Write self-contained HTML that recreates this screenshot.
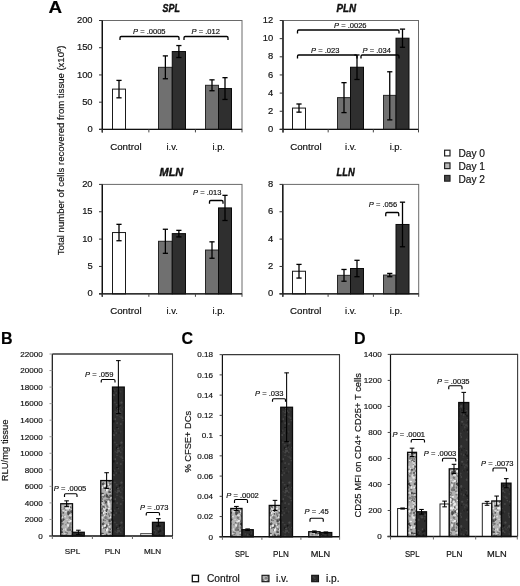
<!DOCTYPE html>
<html><head><meta charset="utf-8"><title>Figure</title>
<style>
html,body{margin:0;padding:0;background:#fff;}
body{width:520px;height:586px;overflow:hidden;}
svg{display:block;font-family:"Liberation Sans", sans-serif;filter:blur(0.35px);}
text{stroke:#111;stroke-width:0.18px;}
</style></head><body>
<svg width="520" height="586" viewBox="0 0 520 586">
<defs>
<filter id="bl" x="-5%" y="-5%" width="110%" height="110%"><feGaussianBlur stdDeviation="0.45"/></filter>
<pattern id="piv" patternUnits="userSpaceOnUse" width="24" height="40">
<rect width="24" height="40" fill="#b2b2b2"/>
<g filter="url(#bl)"><ellipse cx="10.9" cy="22.4" rx="1.5" ry="1.1" fill="#808080"/><ellipse cx="4.4" cy="20.5" rx="1.2" ry="1.4" fill="#6e6e6e"/><ellipse cx="10.7" cy="5.7" rx="1.1" ry="1.5" fill="#5a5a5a"/><ellipse cx="14.3" cy="15.8" rx="1.1" ry="1.3" fill="#4a4a4a"/><ellipse cx="15.0" cy="33.3" rx="0.7" ry="0.6" fill="#808080"/><ellipse cx="14.4" cy="31.1" rx="0.9" ry="1.2" fill="#808080"/><ellipse cx="12.5" cy="25.6" rx="1.1" ry="1.3" fill="#777"/><ellipse cx="15.7" cy="16.3" rx="1.2" ry="1.5" fill="#6e6e6e"/><ellipse cx="17.0" cy="12.6" rx="0.8" ry="0.9" fill="#6e6e6e"/><ellipse cx="13.5" cy="4.3" rx="0.7" ry="0.9" fill="#6e6e6e"/><ellipse cx="-1.0" cy="33.9" rx="0.6" ry="0.8" fill="#5a5a5a"/><ellipse cx="23.0" cy="33.9" rx="0.6" ry="0.8" fill="#5a5a5a"/><ellipse cx="11.3" cy="-0.8" rx="1.0" ry="0.7" fill="#808080"/><ellipse cx="11.3" cy="39.2" rx="1.0" ry="0.7" fill="#808080"/><ellipse cx="18.7" cy="10.8" rx="0.7" ry="0.9" fill="#f0f0f0"/><ellipse cx="18.2" cy="4.7" rx="0.8" ry="0.7" fill="#5a5a5a"/><ellipse cx="11.2" cy="19.5" rx="1.3" ry="0.8" fill="#808080"/><ellipse cx="-0.4" cy="30.8" rx="1.0" ry="1.0" fill="#f0f0f0"/><ellipse cx="23.6" cy="30.8" rx="1.0" ry="1.0" fill="#f0f0f0"/><ellipse cx="10.1" cy="8.5" rx="0.9" ry="1.6" fill="#e8e8e8"/><ellipse cx="-0.1" cy="0.8" rx="0.8" ry="1.6" fill="#6e6e6e"/><ellipse cx="-0.1" cy="40.8" rx="0.8" ry="1.6" fill="#6e6e6e"/><ellipse cx="23.9" cy="0.8" rx="0.8" ry="1.6" fill="#6e6e6e"/><ellipse cx="23.9" cy="40.8" rx="0.8" ry="1.6" fill="#6e6e6e"/><ellipse cx="1.0" cy="5.9" rx="1.0" ry="0.6" fill="#dcdcdc"/><ellipse cx="25.0" cy="5.9" rx="1.0" ry="0.6" fill="#dcdcdc"/><ellipse cx="19.9" cy="15.4" rx="0.7" ry="0.8" fill="#808080"/><ellipse cx="0.4" cy="14.7" rx="1.2" ry="0.7" fill="#777"/><ellipse cx="24.4" cy="14.7" rx="1.2" ry="0.7" fill="#777"/><ellipse cx="20.0" cy="5.4" rx="1.0" ry="1.2" fill="#e8e8e8"/><ellipse cx="-2.2" cy="32.7" rx="0.8" ry="0.8" fill="#808080"/><ellipse cx="21.8" cy="32.7" rx="0.8" ry="0.8" fill="#808080"/><ellipse cx="16.5" cy="15.5" rx="1.1" ry="0.7" fill="#5a5a5a"/><ellipse cx="2.5" cy="1.5" rx="1.6" ry="0.8" fill="#f0f0f0"/><ellipse cx="2.5" cy="41.5" rx="1.6" ry="0.8" fill="#f0f0f0"/><ellipse cx="26.5" cy="1.5" rx="1.6" ry="0.8" fill="#f0f0f0"/><ellipse cx="26.5" cy="41.5" rx="1.6" ry="0.8" fill="#f0f0f0"/><ellipse cx="6.2" cy="32.9" rx="1.2" ry="0.9" fill="#4a4a4a"/><ellipse cx="-1.7" cy="-0.9" rx="0.7" ry="1.1" fill="#6e6e6e"/><ellipse cx="-1.7" cy="39.1" rx="0.7" ry="1.1" fill="#6e6e6e"/><ellipse cx="22.3" cy="-0.9" rx="0.7" ry="1.1" fill="#6e6e6e"/><ellipse cx="22.3" cy="39.1" rx="0.7" ry="1.1" fill="#6e6e6e"/><ellipse cx="6.7" cy="36.7" rx="0.8" ry="0.6" fill="#e8e8e8"/><ellipse cx="9.9" cy="10.0" rx="0.6" ry="0.9" fill="#4a4a4a"/><ellipse cx="2.2" cy="5.5" rx="1.1" ry="0.9" fill="#4a4a4a"/><ellipse cx="26.2" cy="5.5" rx="1.1" ry="0.9" fill="#4a4a4a"/><ellipse cx="14.2" cy="36.9" rx="1.1" ry="1.0" fill="#e8e8e8"/><ellipse cx="-0.9" cy="0.9" rx="1.2" ry="1.1" fill="#e8e8e8"/><ellipse cx="-0.9" cy="40.9" rx="1.2" ry="1.1" fill="#e8e8e8"/><ellipse cx="23.1" cy="0.9" rx="1.2" ry="1.1" fill="#e8e8e8"/><ellipse cx="23.1" cy="40.9" rx="1.2" ry="1.1" fill="#e8e8e8"/><ellipse cx="7.7" cy="-0.0" rx="0.7" ry="1.1" fill="#5a5a5a"/><ellipse cx="7.7" cy="40.0" rx="0.7" ry="1.1" fill="#5a5a5a"/><ellipse cx="-2.4" cy="29.5" rx="1.3" ry="1.4" fill="#dcdcdc"/><ellipse cx="21.6" cy="29.5" rx="1.3" ry="1.4" fill="#dcdcdc"/><ellipse cx="8.4" cy="27.4" rx="1.5" ry="1.5" fill="#f0f0f0"/><ellipse cx="-1.3" cy="1.2" rx="1.1" ry="0.6" fill="#f0f0f0"/><ellipse cx="-1.3" cy="41.2" rx="1.1" ry="0.6" fill="#f0f0f0"/><ellipse cx="22.7" cy="1.2" rx="1.1" ry="0.6" fill="#f0f0f0"/><ellipse cx="22.7" cy="41.2" rx="1.1" ry="0.6" fill="#f0f0f0"/><ellipse cx="9.1" cy="0.5" rx="0.7" ry="0.7" fill="#6e6e6e"/><ellipse cx="9.1" cy="40.5" rx="0.7" ry="0.7" fill="#6e6e6e"/><ellipse cx="-0.2" cy="35.2" rx="1.3" ry="1.0" fill="#777"/><ellipse cx="23.8" cy="35.2" rx="1.3" ry="1.0" fill="#777"/><ellipse cx="10.6" cy="33.5" rx="0.7" ry="1.4" fill="#5a5a5a"/><ellipse cx="7.4" cy="3.5" rx="0.6" ry="1.6" fill="#6e6e6e"/><ellipse cx="11.9" cy="24.6" rx="1.5" ry="0.9" fill="#5a5a5a"/><ellipse cx="8.8" cy="5.7" rx="1.2" ry="1.1" fill="#dcdcdc"/><ellipse cx="15.8" cy="17.7" rx="1.5" ry="0.9" fill="#e8e8e8"/><ellipse cx="4.8" cy="17.2" rx="1.4" ry="1.5" fill="#808080"/><ellipse cx="9.2" cy="23.3" rx="0.9" ry="0.7" fill="#777"/><ellipse cx="8.4" cy="35.8" rx="0.6" ry="0.7" fill="#e8e8e8"/><ellipse cx="19.7" cy="4.5" rx="1.1" ry="1.5" fill="#f0f0f0"/><ellipse cx="9.2" cy="20.8" rx="1.3" ry="1.3" fill="#777"/><ellipse cx="7.7" cy="33.1" rx="0.9" ry="1.2" fill="#e8e8e8"/><ellipse cx="13.7" cy="12.4" rx="1.4" ry="0.6" fill="#4a4a4a"/><ellipse cx="9.7" cy="7.6" rx="1.4" ry="0.9" fill="#4a4a4a"/><ellipse cx="19.1" cy="-0.6" rx="0.7" ry="0.7" fill="#dcdcdc"/><ellipse cx="19.1" cy="39.4" rx="0.7" ry="0.7" fill="#dcdcdc"/><ellipse cx="-1.0" cy="27.4" rx="0.8" ry="1.1" fill="#4a4a4a"/><ellipse cx="23.0" cy="27.4" rx="0.8" ry="1.1" fill="#4a4a4a"/><ellipse cx="17.1" cy="30.2" rx="1.1" ry="0.6" fill="#808080"/><ellipse cx="6.5" cy="13.8" rx="1.3" ry="1.1" fill="#4a4a4a"/><ellipse cx="9.4" cy="31.7" rx="1.5" ry="0.7" fill="#f0f0f0"/><ellipse cx="3.1" cy="18.1" rx="1.2" ry="1.5" fill="#f0f0f0"/><ellipse cx="13.2" cy="26.1" rx="1.1" ry="1.4" fill="#dcdcdc"/><ellipse cx="11.1" cy="26.1" rx="0.8" ry="1.3" fill="#6e6e6e"/><ellipse cx="5.1" cy="36.0" rx="1.6" ry="1.6" fill="#dcdcdc"/><ellipse cx="6.3" cy="28.7" rx="0.6" ry="1.1" fill="#5a5a5a"/><ellipse cx="10.6" cy="22.0" rx="1.4" ry="1.1" fill="#5a5a5a"/><ellipse cx="5.2" cy="34.7" rx="1.0" ry="0.6" fill="#dcdcdc"/><ellipse cx="16.5" cy="36.6" rx="1.1" ry="1.6" fill="#777"/><ellipse cx="-1.3" cy="19.7" rx="1.5" ry="0.7" fill="#808080"/><ellipse cx="22.7" cy="19.7" rx="1.5" ry="0.7" fill="#808080"/><ellipse cx="10.5" cy="22.4" rx="1.4" ry="1.2" fill="#4a4a4a"/><ellipse cx="12.5" cy="33.7" rx="1.2" ry="0.9" fill="#f0f0f0"/><ellipse cx="-1.1" cy="34.8" rx="1.2" ry="0.9" fill="#4a4a4a"/><ellipse cx="22.9" cy="34.8" rx="1.2" ry="0.9" fill="#4a4a4a"/><ellipse cx="-0.8" cy="21.0" rx="1.2" ry="0.8" fill="#6e6e6e"/><ellipse cx="23.2" cy="21.0" rx="1.2" ry="0.8" fill="#6e6e6e"/><ellipse cx="12.1" cy="24.2" rx="0.6" ry="1.6" fill="#f0f0f0"/><ellipse cx="13.1" cy="-0.4" rx="0.7" ry="0.7" fill="#4a4a4a"/><ellipse cx="13.1" cy="39.6" rx="0.7" ry="0.7" fill="#4a4a4a"/><ellipse cx="1.6" cy="21.5" rx="1.0" ry="1.6" fill="#f0f0f0"/><ellipse cx="25.6" cy="21.5" rx="1.0" ry="1.6" fill="#f0f0f0"/><ellipse cx="6.5" cy="18.9" rx="0.7" ry="1.0" fill="#777"/><ellipse cx="12.6" cy="4.3" rx="1.0" ry="0.6" fill="#e8e8e8"/><ellipse cx="3.1" cy="31.2" rx="0.6" ry="0.8" fill="#808080"/><ellipse cx="0.3" cy="11.4" rx="1.3" ry="0.8" fill="#777"/><ellipse cx="24.3" cy="11.4" rx="1.3" ry="0.8" fill="#777"/><ellipse cx="2.5" cy="29.2" rx="0.7" ry="1.1" fill="#e8e8e8"/><ellipse cx="26.5" cy="29.2" rx="0.7" ry="1.1" fill="#e8e8e8"/><ellipse cx="17.2" cy="28.1" rx="1.5" ry="0.6" fill="#f0f0f0"/><ellipse cx="19.8" cy="24.6" rx="1.1" ry="1.5" fill="#808080"/><ellipse cx="12.7" cy="34.1" rx="1.2" ry="1.5" fill="#808080"/><ellipse cx="-2.0" cy="25.1" rx="0.9" ry="0.8" fill="#dcdcdc"/><ellipse cx="22.0" cy="25.1" rx="0.9" ry="0.8" fill="#dcdcdc"/><ellipse cx="-2.6" cy="7.8" rx="1.4" ry="0.8" fill="#6e6e6e"/><ellipse cx="21.4" cy="7.8" rx="1.4" ry="0.8" fill="#6e6e6e"/><ellipse cx="3.2" cy="9.6" rx="1.3" ry="0.9" fill="#6e6e6e"/><ellipse cx="10.4" cy="-2.4" rx="1.1" ry="1.3" fill="#808080"/><ellipse cx="10.4" cy="37.6" rx="1.1" ry="1.3" fill="#808080"/><ellipse cx="9.7" cy="27.4" rx="0.6" ry="0.8" fill="#dcdcdc"/><ellipse cx="-2.1" cy="-1.3" rx="0.7" ry="1.1" fill="#dcdcdc"/><ellipse cx="-2.1" cy="38.7" rx="0.7" ry="1.1" fill="#dcdcdc"/><ellipse cx="21.9" cy="-1.3" rx="0.7" ry="1.1" fill="#dcdcdc"/><ellipse cx="21.9" cy="38.7" rx="0.7" ry="1.1" fill="#dcdcdc"/><ellipse cx="12.1" cy="27.4" rx="0.8" ry="0.7" fill="#6e6e6e"/><ellipse cx="0.6" cy="30.5" rx="1.2" ry="1.5" fill="#777"/><ellipse cx="24.6" cy="30.5" rx="1.2" ry="1.5" fill="#777"/><ellipse cx="3.5" cy="7.4" rx="0.8" ry="1.4" fill="#e8e8e8"/><ellipse cx="-1.8" cy="3.8" rx="0.7" ry="1.6" fill="#777"/><ellipse cx="22.2" cy="3.8" rx="0.7" ry="1.6" fill="#777"/><ellipse cx="1.9" cy="3.9" rx="1.0" ry="1.0" fill="#dcdcdc"/><ellipse cx="25.9" cy="3.9" rx="1.0" ry="1.0" fill="#dcdcdc"/><ellipse cx="10.3" cy="24.0" rx="0.6" ry="1.3" fill="#808080"/><ellipse cx="4.4" cy="18.2" rx="1.3" ry="1.0" fill="#808080"/><ellipse cx="14.5" cy="3.8" rx="1.4" ry="0.9" fill="#6e6e6e"/><ellipse cx="19.2" cy="28.2" rx="1.5" ry="1.2" fill="#f0f0f0"/><ellipse cx="13.7" cy="7.6" rx="1.2" ry="0.9" fill="#e8e8e8"/><ellipse cx="6.7" cy="4.7" rx="1.3" ry="0.8" fill="#f0f0f0"/><ellipse cx="3.2" cy="13.2" rx="1.1" ry="1.0" fill="#f0f0f0"/><ellipse cx="18.4" cy="16.2" rx="1.3" ry="0.7" fill="#dcdcdc"/><ellipse cx="7.2" cy="4.0" rx="1.5" ry="1.6" fill="#5a5a5a"/><ellipse cx="5.6" cy="-2.2" rx="1.3" ry="0.9" fill="#f0f0f0"/><ellipse cx="5.6" cy="37.8" rx="1.3" ry="0.9" fill="#f0f0f0"/><ellipse cx="13.7" cy="21.3" rx="1.0" ry="1.6" fill="#808080"/><ellipse cx="16.8" cy="30.5" rx="1.6" ry="0.6" fill="#6e6e6e"/><ellipse cx="17.7" cy="10.3" rx="1.0" ry="0.7" fill="#808080"/><ellipse cx="15.6" cy="0.4" rx="0.9" ry="0.9" fill="#dcdcdc"/><ellipse cx="15.6" cy="40.4" rx="0.9" ry="0.9" fill="#dcdcdc"/><ellipse cx="13.2" cy="20.3" rx="1.6" ry="1.2" fill="#6e6e6e"/><ellipse cx="15.3" cy="32.4" rx="0.7" ry="1.2" fill="#5a5a5a"/><ellipse cx="9.3" cy="-2.5" rx="1.0" ry="1.6" fill="#777"/><ellipse cx="9.3" cy="37.5" rx="1.0" ry="1.6" fill="#777"/><ellipse cx="13.0" cy="23.9" rx="1.0" ry="1.1" fill="#e8e8e8"/><ellipse cx="12.6" cy="23.9" rx="1.0" ry="0.9" fill="#e8e8e8"/><ellipse cx="13.5" cy="11.3" rx="1.3" ry="0.9" fill="#5a5a5a"/><ellipse cx="18.5" cy="23.4" rx="1.2" ry="1.0" fill="#f0f0f0"/><ellipse cx="1.3" cy="12.6" rx="1.0" ry="1.2" fill="#dcdcdc"/><ellipse cx="25.3" cy="12.6" rx="1.0" ry="1.2" fill="#dcdcdc"/><ellipse cx="1.8" cy="36.2" rx="1.0" ry="1.1" fill="#808080"/><ellipse cx="25.8" cy="36.2" rx="1.0" ry="1.1" fill="#808080"/><ellipse cx="1.1" cy="3.9" rx="1.4" ry="1.5" fill="#4a4a4a"/><ellipse cx="25.1" cy="3.9" rx="1.4" ry="1.5" fill="#4a4a4a"/><ellipse cx="-0.5" cy="32.7" rx="1.2" ry="0.7" fill="#f0f0f0"/><ellipse cx="23.5" cy="32.7" rx="1.2" ry="0.7" fill="#f0f0f0"/><ellipse cx="10.9" cy="8.1" rx="0.7" ry="1.1" fill="#6e6e6e"/><ellipse cx="8.7" cy="5.6" rx="1.0" ry="1.2" fill="#f0f0f0"/><ellipse cx="8.7" cy="29.8" rx="1.4" ry="0.7" fill="#e8e8e8"/><ellipse cx="17.6" cy="9.5" rx="0.7" ry="1.5" fill="#dcdcdc"/><ellipse cx="6.6" cy="24.4" rx="1.3" ry="1.3" fill="#808080"/><ellipse cx="15.2" cy="30.1" rx="0.8" ry="0.8" fill="#808080"/><ellipse cx="-2.9" cy="1.6" rx="0.7" ry="0.9" fill="#f0f0f0"/><ellipse cx="-2.9" cy="41.6" rx="0.7" ry="0.9" fill="#f0f0f0"/><ellipse cx="21.1" cy="1.6" rx="0.7" ry="0.9" fill="#f0f0f0"/><ellipse cx="21.1" cy="41.6" rx="0.7" ry="0.9" fill="#f0f0f0"/><ellipse cx="0.6" cy="1.5" rx="0.8" ry="0.9" fill="#6e6e6e"/><ellipse cx="0.6" cy="41.5" rx="0.8" ry="0.9" fill="#6e6e6e"/><ellipse cx="24.6" cy="1.5" rx="0.8" ry="0.9" fill="#6e6e6e"/><ellipse cx="24.6" cy="41.5" rx="0.8" ry="0.9" fill="#6e6e6e"/><ellipse cx="-2.1" cy="6.4" rx="0.8" ry="1.6" fill="#777"/><ellipse cx="21.9" cy="6.4" rx="0.8" ry="1.6" fill="#777"/><ellipse cx="11.5" cy="8.4" rx="0.9" ry="1.3" fill="#6e6e6e"/><ellipse cx="19.3" cy="17.9" rx="1.4" ry="1.4" fill="#808080"/><ellipse cx="10.7" cy="29.9" rx="1.0" ry="0.8" fill="#4a4a4a"/><ellipse cx="15.7" cy="-0.4" rx="0.9" ry="1.1" fill="#4a4a4a"/><ellipse cx="15.7" cy="39.6" rx="0.9" ry="1.1" fill="#4a4a4a"/><ellipse cx="10.3" cy="14.8" rx="0.7" ry="1.5" fill="#6e6e6e"/><ellipse cx="13.0" cy="17.3" rx="1.2" ry="1.4" fill="#777"/><ellipse cx="7.2" cy="31.0" rx="0.7" ry="0.8" fill="#6e6e6e"/><ellipse cx="16.7" cy="19.8" rx="1.4" ry="0.9" fill="#4a4a4a"/><ellipse cx="5.3" cy="26.3" rx="0.9" ry="1.5" fill="#dcdcdc"/><ellipse cx="17.0" cy="22.8" rx="1.5" ry="1.5" fill="#e8e8e8"/><ellipse cx="10.5" cy="32.1" rx="0.9" ry="0.9" fill="#f0f0f0"/><ellipse cx="-0.8" cy="29.2" rx="1.1" ry="0.7" fill="#dcdcdc"/><ellipse cx="23.2" cy="29.2" rx="1.1" ry="0.7" fill="#dcdcdc"/><ellipse cx="0.6" cy="27.1" rx="1.2" ry="1.4" fill="#dcdcdc"/><ellipse cx="24.6" cy="27.1" rx="1.2" ry="1.4" fill="#dcdcdc"/><ellipse cx="19.1" cy="21.6" rx="1.4" ry="1.2" fill="#4a4a4a"/><ellipse cx="2.2" cy="18.2" rx="1.5" ry="1.4" fill="#808080"/><ellipse cx="26.2" cy="18.2" rx="1.5" ry="1.4" fill="#808080"/><ellipse cx="12.4" cy="21.8" rx="1.2" ry="1.6" fill="#f0f0f0"/><ellipse cx="1.5" cy="21.9" rx="1.4" ry="0.7" fill="#6e6e6e"/><ellipse cx="25.5" cy="21.9" rx="1.4" ry="0.7" fill="#6e6e6e"/><ellipse cx="6.6" cy="4.2" rx="0.9" ry="0.6" fill="#4a4a4a"/><ellipse cx="2.3" cy="32.7" rx="1.0" ry="1.3" fill="#777"/><ellipse cx="26.3" cy="32.7" rx="1.0" ry="1.3" fill="#777"/><ellipse cx="18.4" cy="20.9" rx="1.4" ry="1.0" fill="#dcdcdc"/><ellipse cx="19.4" cy="13.3" rx="0.7" ry="1.1" fill="#6e6e6e"/><ellipse cx="17.0" cy="36.6" rx="1.0" ry="1.4" fill="#dcdcdc"/><ellipse cx="20.5" cy="32.2" rx="1.4" ry="1.5" fill="#5a5a5a"/><ellipse cx="12.6" cy="28.4" rx="1.4" ry="1.0" fill="#f0f0f0"/><ellipse cx="-2.0" cy="9.8" rx="0.8" ry="1.2" fill="#4a4a4a"/><ellipse cx="22.0" cy="9.8" rx="0.8" ry="1.2" fill="#4a4a4a"/><ellipse cx="7.7" cy="15.6" rx="1.1" ry="0.9" fill="#5a5a5a"/><ellipse cx="11.3" cy="29.2" rx="0.9" ry="0.8" fill="#4a4a4a"/><ellipse cx="-2.1" cy="30.1" rx="0.6" ry="1.1" fill="#5a5a5a"/><ellipse cx="21.9" cy="30.1" rx="0.6" ry="1.1" fill="#5a5a5a"/><ellipse cx="7.5" cy="7.9" rx="1.0" ry="1.2" fill="#777"/><ellipse cx="14.3" cy="9.0" rx="0.8" ry="0.9" fill="#4a4a4a"/><ellipse cx="-2.1" cy="-2.5" rx="1.2" ry="1.5" fill="#777"/><ellipse cx="-2.1" cy="37.5" rx="1.2" ry="1.5" fill="#777"/><ellipse cx="21.9" cy="-2.5" rx="1.2" ry="1.5" fill="#777"/><ellipse cx="21.9" cy="37.5" rx="1.2" ry="1.5" fill="#777"/><ellipse cx="20.5" cy="19.4" rx="1.0" ry="1.6" fill="#6e6e6e"/><ellipse cx="11.6" cy="8.8" rx="0.6" ry="1.5" fill="#f0f0f0"/><ellipse cx="-0.6" cy="31.8" rx="1.4" ry="1.4" fill="#5a5a5a"/><ellipse cx="23.4" cy="31.8" rx="1.4" ry="1.4" fill="#5a5a5a"/><ellipse cx="15.8" cy="9.5" rx="0.6" ry="1.1" fill="#dcdcdc"/><ellipse cx="10.8" cy="9.9" rx="1.0" ry="1.5" fill="#f0f0f0"/><ellipse cx="3.8" cy="12.9" rx="0.9" ry="1.5" fill="#4a4a4a"/><ellipse cx="15.3" cy="-0.3" rx="0.9" ry="1.1" fill="#4a4a4a"/><ellipse cx="15.3" cy="39.7" rx="0.9" ry="1.1" fill="#4a4a4a"/><ellipse cx="13.7" cy="7.1" rx="0.8" ry="1.5" fill="#4a4a4a"/><ellipse cx="19.7" cy="3.3" rx="0.9" ry="1.3" fill="#6e6e6e"/><ellipse cx="-2.6" cy="27.7" rx="0.7" ry="1.3" fill="#e8e8e8"/><ellipse cx="21.4" cy="27.7" rx="0.7" ry="1.3" fill="#e8e8e8"/><ellipse cx="0.5" cy="7.5" rx="0.8" ry="1.3" fill="#777"/><ellipse cx="24.5" cy="7.5" rx="0.8" ry="1.3" fill="#777"/><ellipse cx="5.0" cy="21.7" rx="1.1" ry="0.8" fill="#e8e8e8"/><ellipse cx="7.6" cy="16.2" rx="1.2" ry="1.6" fill="#6e6e6e"/><ellipse cx="8.6" cy="27.5" rx="0.7" ry="1.0" fill="#777"/><ellipse cx="17.9" cy="31.4" rx="0.7" ry="1.0" fill="#f0f0f0"/><ellipse cx="17.1" cy="19.0" rx="0.9" ry="0.7" fill="#5a5a5a"/><ellipse cx="20.5" cy="33.8" rx="1.3" ry="1.5" fill="#4a4a4a"/><ellipse cx="7.0" cy="15.0" rx="1.1" ry="0.9" fill="#dcdcdc"/><ellipse cx="18.1" cy="22.2" rx="0.7" ry="0.8" fill="#f0f0f0"/><ellipse cx="17.6" cy="13.2" rx="1.5" ry="1.2" fill="#dcdcdc"/><ellipse cx="10.7" cy="15.3" rx="0.7" ry="1.2" fill="#4a4a4a"/><ellipse cx="16.3" cy="28.3" rx="0.8" ry="1.0" fill="#777"/><ellipse cx="14.2" cy="3.6" rx="0.8" ry="0.8" fill="#6e6e6e"/><ellipse cx="10.4" cy="30.8" rx="0.9" ry="1.4" fill="#4a4a4a"/><ellipse cx="15.5" cy="30.7" rx="1.4" ry="1.0" fill="#dcdcdc"/><ellipse cx="-1.9" cy="24.9" rx="1.3" ry="1.2" fill="#dcdcdc"/><ellipse cx="22.1" cy="24.9" rx="1.3" ry="1.2" fill="#dcdcdc"/><ellipse cx="-0.4" cy="31.6" rx="1.3" ry="1.2" fill="#5a5a5a"/><ellipse cx="23.6" cy="31.6" rx="1.3" ry="1.2" fill="#5a5a5a"/><ellipse cx="6.3" cy="7.6" rx="0.9" ry="1.0" fill="#f0f0f0"/><ellipse cx="4.9" cy="13.3" rx="0.9" ry="0.7" fill="#4a4a4a"/><ellipse cx="6.1" cy="21.6" rx="0.9" ry="0.8" fill="#4a4a4a"/><ellipse cx="13.8" cy="7.9" rx="1.5" ry="1.6" fill="#808080"/><ellipse cx="13.6" cy="1.1" rx="1.3" ry="1.4" fill="#4a4a4a"/><ellipse cx="13.6" cy="41.1" rx="1.3" ry="1.4" fill="#4a4a4a"/><ellipse cx="5.9" cy="23.1" rx="1.3" ry="0.9" fill="#dcdcdc"/><ellipse cx="6.4" cy="35.3" rx="1.1" ry="1.3" fill="#808080"/><ellipse cx="-2.3" cy="21.7" rx="1.2" ry="1.2" fill="#e8e8e8"/><ellipse cx="21.7" cy="21.7" rx="1.2" ry="1.2" fill="#e8e8e8"/><ellipse cx="4.0" cy="29.8" rx="1.5" ry="0.9" fill="#4a4a4a"/><ellipse cx="2.9" cy="33.0" rx="0.9" ry="1.5" fill="#808080"/><ellipse cx="26.9" cy="33.0" rx="0.9" ry="1.5" fill="#808080"/><ellipse cx="18.2" cy="14.5" rx="0.8" ry="1.2" fill="#6e6e6e"/><ellipse cx="10.9" cy="16.1" rx="1.4" ry="1.5" fill="#4a4a4a"/><ellipse cx="7.4" cy="26.8" rx="1.3" ry="1.0" fill="#5a5a5a"/><ellipse cx="3.8" cy="16.5" rx="0.6" ry="1.1" fill="#6e6e6e"/><ellipse cx="13.7" cy="6.9" rx="1.1" ry="0.9" fill="#dcdcdc"/><ellipse cx="1.3" cy="31.4" rx="1.3" ry="1.4" fill="#f0f0f0"/><ellipse cx="25.3" cy="31.4" rx="1.3" ry="1.4" fill="#f0f0f0"/><ellipse cx="-1.0" cy="24.0" rx="1.1" ry="1.0" fill="#f0f0f0"/><ellipse cx="23.0" cy="24.0" rx="1.1" ry="1.0" fill="#f0f0f0"/><ellipse cx="18.0" cy="19.4" rx="1.6" ry="1.4" fill="#f0f0f0"/><ellipse cx="19.8" cy="4.7" rx="0.7" ry="1.5" fill="#dcdcdc"/><ellipse cx="12.6" cy="17.3" rx="1.5" ry="0.9" fill="#5a5a5a"/><ellipse cx="7.1" cy="24.6" rx="1.0" ry="1.0" fill="#dcdcdc"/><ellipse cx="18.0" cy="12.2" rx="1.2" ry="0.7" fill="#6e6e6e"/><ellipse cx="20.3" cy="9.7" rx="1.5" ry="1.6" fill="#777"/><ellipse cx="16.7" cy="21.0" rx="0.8" ry="0.9" fill="#f0f0f0"/><ellipse cx="-1.4" cy="35.2" rx="1.6" ry="1.3" fill="#dcdcdc"/><ellipse cx="22.6" cy="35.2" rx="1.6" ry="1.3" fill="#dcdcdc"/><ellipse cx="20.8" cy="16.9" rx="1.4" ry="0.8" fill="#f0f0f0"/><ellipse cx="13.6" cy="36.1" rx="0.7" ry="1.4" fill="#6e6e6e"/></g>
</pattern>
<pattern id="pip" patternUnits="userSpaceOnUse" width="24" height="40">
<rect width="24" height="40" fill="#2d2d2d"/>
<g filter="url(#bl)"><ellipse cx="-2.8" cy="23.0" rx="0.9" ry="0.7" fill="#4c4c4c"/><ellipse cx="21.2" cy="23.0" rx="0.9" ry="0.7" fill="#4c4c4c"/><ellipse cx="0.6" cy="6.9" rx="0.9" ry="0.9" fill="#3c3c3c"/><ellipse cx="24.6" cy="6.9" rx="0.9" ry="0.9" fill="#3c3c3c"/><ellipse cx="9.5" cy="14.3" rx="1.0" ry="0.5" fill="#161616"/><ellipse cx="10.9" cy="12.6" rx="0.8" ry="0.6" fill="#1c1c1c"/><ellipse cx="-2.9" cy="8.1" rx="1.2" ry="1.1" fill="#161616"/><ellipse cx="21.1" cy="8.1" rx="1.2" ry="1.1" fill="#161616"/><ellipse cx="4.7" cy="33.5" rx="0.8" ry="0.9" fill="#444"/><ellipse cx="15.2" cy="27.9" rx="0.9" ry="0.9" fill="#444"/><ellipse cx="4.6" cy="35.2" rx="0.5" ry="0.6" fill="#4c4c4c"/><ellipse cx="-0.9" cy="11.0" rx="0.8" ry="1.2" fill="#4c4c4c"/><ellipse cx="23.1" cy="11.0" rx="0.8" ry="1.2" fill="#4c4c4c"/><ellipse cx="16.7" cy="-2.5" rx="0.9" ry="0.6" fill="#444"/><ellipse cx="16.7" cy="37.5" rx="0.9" ry="0.6" fill="#444"/><ellipse cx="20.7" cy="4.8" rx="1.1" ry="0.7" fill="#444"/><ellipse cx="12.0" cy="11.8" rx="0.7" ry="1.1" fill="#3c3c3c"/><ellipse cx="-2.8" cy="23.6" rx="0.7" ry="0.7" fill="#444"/><ellipse cx="21.2" cy="23.6" rx="0.7" ry="0.7" fill="#444"/><ellipse cx="16.0" cy="11.1" rx="1.0" ry="0.6" fill="#161616"/><ellipse cx="10.6" cy="21.1" rx="0.9" ry="0.5" fill="#3c3c3c"/><ellipse cx="14.1" cy="21.5" rx="0.8" ry="1.0" fill="#444"/><ellipse cx="6.8" cy="30.2" rx="0.7" ry="0.7" fill="#3c3c3c"/><ellipse cx="0.7" cy="31.6" rx="0.6" ry="1.2" fill="#3c3c3c"/><ellipse cx="24.7" cy="31.6" rx="0.6" ry="1.2" fill="#3c3c3c"/><ellipse cx="11.1" cy="30.0" rx="0.8" ry="1.2" fill="#1c1c1c"/><ellipse cx="1.4" cy="2.6" rx="1.1" ry="1.2" fill="#4c4c4c"/><ellipse cx="1.4" cy="42.6" rx="1.1" ry="1.2" fill="#4c4c4c"/><ellipse cx="25.4" cy="2.6" rx="1.1" ry="1.2" fill="#4c4c4c"/><ellipse cx="25.4" cy="42.6" rx="1.1" ry="1.2" fill="#4c4c4c"/><ellipse cx="15.8" cy="31.3" rx="0.9" ry="0.9" fill="#3c3c3c"/><ellipse cx="17.9" cy="21.3" rx="1.0" ry="1.1" fill="#161616"/><ellipse cx="14.6" cy="9.4" rx="0.9" ry="1.1" fill="#444"/><ellipse cx="6.2" cy="21.8" rx="1.2" ry="1.0" fill="#4c4c4c"/><ellipse cx="0.8" cy="23.9" rx="1.1" ry="1.0" fill="#444"/><ellipse cx="24.8" cy="23.9" rx="1.1" ry="1.0" fill="#444"/><ellipse cx="7.8" cy="24.3" rx="1.0" ry="1.1" fill="#3c3c3c"/><ellipse cx="10.6" cy="10.5" rx="1.1" ry="0.6" fill="#444"/><ellipse cx="13.7" cy="21.7" rx="1.1" ry="0.7" fill="#444"/><ellipse cx="1.3" cy="17.0" rx="1.1" ry="1.2" fill="#3c3c3c"/><ellipse cx="25.3" cy="17.0" rx="1.1" ry="1.2" fill="#3c3c3c"/><ellipse cx="18.7" cy="30.6" rx="0.9" ry="1.0" fill="#3c3c3c"/><ellipse cx="4.1" cy="10.2" rx="0.6" ry="1.1" fill="#3c3c3c"/><ellipse cx="18.9" cy="2.4" rx="0.8" ry="0.8" fill="#444"/><ellipse cx="18.9" cy="42.4" rx="0.8" ry="0.8" fill="#444"/><ellipse cx="16.9" cy="-1.7" rx="0.6" ry="1.1" fill="#3c3c3c"/><ellipse cx="16.9" cy="38.3" rx="0.6" ry="1.1" fill="#3c3c3c"/><ellipse cx="-0.3" cy="5.8" rx="0.9" ry="1.1" fill="#161616"/><ellipse cx="23.7" cy="5.8" rx="0.9" ry="1.1" fill="#161616"/><ellipse cx="0.1" cy="16.4" rx="0.9" ry="0.6" fill="#3c3c3c"/><ellipse cx="24.1" cy="16.4" rx="0.9" ry="0.6" fill="#3c3c3c"/><ellipse cx="7.2" cy="17.0" rx="0.6" ry="0.5" fill="#3c3c3c"/><ellipse cx="5.5" cy="10.1" rx="0.9" ry="0.7" fill="#1c1c1c"/><ellipse cx="2.1" cy="9.1" rx="0.7" ry="1.3" fill="#3c3c3c"/><ellipse cx="26.1" cy="9.1" rx="0.7" ry="1.3" fill="#3c3c3c"/><ellipse cx="5.2" cy="6.4" rx="1.0" ry="1.3" fill="#4c4c4c"/><ellipse cx="13.6" cy="36.5" rx="1.2" ry="1.2" fill="#444"/><ellipse cx="11.1" cy="15.7" rx="1.2" ry="0.8" fill="#161616"/><ellipse cx="5.2" cy="13.9" rx="0.6" ry="0.9" fill="#444"/><ellipse cx="11.5" cy="16.0" rx="1.0" ry="1.1" fill="#1c1c1c"/><ellipse cx="10.7" cy="-0.3" rx="1.0" ry="1.2" fill="#444"/><ellipse cx="10.7" cy="39.7" rx="1.0" ry="1.2" fill="#444"/><ellipse cx="13.0" cy="16.8" rx="0.5" ry="0.7" fill="#4c4c4c"/><ellipse cx="14.9" cy="20.8" rx="1.1" ry="0.9" fill="#3c3c3c"/><ellipse cx="-1.8" cy="28.6" rx="0.7" ry="0.8" fill="#444"/><ellipse cx="22.2" cy="28.6" rx="0.7" ry="0.8" fill="#444"/><ellipse cx="17.5" cy="31.1" rx="0.6" ry="0.7" fill="#161616"/><ellipse cx="0.5" cy="12.9" rx="0.8" ry="0.6" fill="#1c1c1c"/><ellipse cx="24.5" cy="12.9" rx="0.8" ry="0.6" fill="#1c1c1c"/><ellipse cx="7.8" cy="30.8" rx="0.9" ry="0.5" fill="#1c1c1c"/><ellipse cx="14.6" cy="19.5" rx="0.7" ry="0.9" fill="#444"/><ellipse cx="0.8" cy="12.5" rx="0.8" ry="0.9" fill="#444"/><ellipse cx="24.8" cy="12.5" rx="0.8" ry="0.9" fill="#444"/><ellipse cx="12.4" cy="21.9" rx="0.8" ry="0.9" fill="#1c1c1c"/><ellipse cx="3.5" cy="8.2" rx="0.7" ry="1.1" fill="#1c1c1c"/><ellipse cx="3.3" cy="20.7" rx="0.8" ry="0.6" fill="#4c4c4c"/><ellipse cx="8.3" cy="8.6" rx="0.5" ry="0.5" fill="#1c1c1c"/><ellipse cx="13.6" cy="32.4" rx="1.3" ry="0.7" fill="#161616"/><ellipse cx="-1.9" cy="8.6" rx="1.1" ry="1.0" fill="#4c4c4c"/><ellipse cx="22.1" cy="8.6" rx="1.1" ry="1.0" fill="#4c4c4c"/><ellipse cx="5.6" cy="25.3" rx="0.6" ry="0.8" fill="#1c1c1c"/><ellipse cx="11.8" cy="19.6" rx="1.2" ry="0.7" fill="#4c4c4c"/><ellipse cx="5.3" cy="-3.0" rx="0.7" ry="1.1" fill="#4c4c4c"/><ellipse cx="5.3" cy="37.0" rx="0.7" ry="1.1" fill="#4c4c4c"/><ellipse cx="16.0" cy="9.6" rx="0.6" ry="0.8" fill="#1c1c1c"/><ellipse cx="19.3" cy="19.1" rx="0.7" ry="1.2" fill="#4c4c4c"/><ellipse cx="16.8" cy="0.9" rx="0.8" ry="0.8" fill="#161616"/><ellipse cx="16.8" cy="40.9" rx="0.8" ry="0.8" fill="#161616"/><ellipse cx="-2.1" cy="10.9" rx="0.8" ry="1.2" fill="#4c4c4c"/><ellipse cx="21.9" cy="10.9" rx="0.8" ry="1.2" fill="#4c4c4c"/><ellipse cx="11.3" cy="13.0" rx="0.7" ry="0.5" fill="#4c4c4c"/><ellipse cx="7.8" cy="14.9" rx="0.7" ry="1.2" fill="#444"/><ellipse cx="15.4" cy="15.4" rx="0.8" ry="1.2" fill="#161616"/><ellipse cx="13.8" cy="-2.3" rx="1.1" ry="1.0" fill="#3c3c3c"/><ellipse cx="13.8" cy="37.7" rx="1.1" ry="1.0" fill="#3c3c3c"/><ellipse cx="13.0" cy="24.5" rx="0.6" ry="0.6" fill="#1c1c1c"/><ellipse cx="-2.9" cy="15.3" rx="1.2" ry="0.5" fill="#444"/><ellipse cx="21.1" cy="15.3" rx="1.2" ry="0.5" fill="#444"/><ellipse cx="16.4" cy="10.9" rx="0.9" ry="0.9" fill="#161616"/><ellipse cx="3.6" cy="7.7" rx="0.7" ry="1.0" fill="#444"/><ellipse cx="12.5" cy="-2.9" rx="1.3" ry="0.5" fill="#3c3c3c"/><ellipse cx="12.5" cy="37.1" rx="1.3" ry="0.5" fill="#3c3c3c"/><ellipse cx="11.8" cy="26.0" rx="0.9" ry="1.0" fill="#3c3c3c"/><ellipse cx="-2.8" cy="27.6" rx="1.1" ry="0.7" fill="#161616"/><ellipse cx="21.2" cy="27.6" rx="1.1" ry="0.7" fill="#161616"/><ellipse cx="-2.7" cy="12.5" rx="1.1" ry="1.1" fill="#444"/><ellipse cx="21.3" cy="12.5" rx="1.1" ry="1.1" fill="#444"/><ellipse cx="-0.9" cy="33.0" rx="0.6" ry="1.0" fill="#1c1c1c"/><ellipse cx="23.1" cy="33.0" rx="0.6" ry="1.0" fill="#1c1c1c"/><ellipse cx="19.3" cy="11.7" rx="0.8" ry="0.8" fill="#3c3c3c"/><ellipse cx="12.0" cy="25.9" rx="0.8" ry="1.1" fill="#3c3c3c"/><ellipse cx="17.7" cy="35.1" rx="1.3" ry="1.2" fill="#4c4c4c"/><ellipse cx="2.7" cy="18.1" rx="1.1" ry="0.9" fill="#444"/><ellipse cx="26.7" cy="18.1" rx="1.1" ry="0.9" fill="#444"/><ellipse cx="14.9" cy="16.5" rx="0.9" ry="0.8" fill="#1c1c1c"/><ellipse cx="12.2" cy="31.9" rx="0.8" ry="1.1" fill="#4c4c4c"/><ellipse cx="8.8" cy="27.3" rx="0.6" ry="1.2" fill="#444"/><ellipse cx="20.2" cy="33.1" rx="1.0" ry="0.8" fill="#444"/><ellipse cx="15.0" cy="33.2" rx="1.1" ry="0.6" fill="#1c1c1c"/><ellipse cx="14.9" cy="11.7" rx="1.0" ry="1.3" fill="#1c1c1c"/><ellipse cx="14.1" cy="-2.4" rx="1.3" ry="0.6" fill="#4c4c4c"/><ellipse cx="14.1" cy="37.6" rx="1.3" ry="0.6" fill="#4c4c4c"/><ellipse cx="10.1" cy="25.3" rx="0.8" ry="1.2" fill="#444"/></g>
</pattern>
</defs>
<rect width="520" height="586" fill="#fff"/>
<rect x="102.3" y="20.5" width="139.7" height="108.9" fill="#fff" stroke="#6a6a6a" stroke-width="1"/>
<rect x="112.50" y="89.11" width="13.00" height="40.29" fill="#fff" stroke="#1a1a1a" stroke-width="1"/>
<rect x="158.50" y="67.33" width="13.75" height="62.07" fill="#707070" stroke="#262626" stroke-width="1"/>
<rect x="172.25" y="51.54" width="13.25" height="77.86" fill="#2f2f2f" stroke="#0a0a0a" stroke-width="1"/>
<rect x="205.50" y="85.30" width="13.00" height="44.10" fill="#707070" stroke="#262626" stroke-width="1"/>
<rect x="218.50" y="88.56" width="13.00" height="40.84" fill="#2f2f2f" stroke="#0a0a0a" stroke-width="1"/>
<line x1="119.00" y1="80.40" x2="119.00" y2="97.82" stroke="#000" stroke-width="1.3"/>
<line x1="116.40" y1="80.40" x2="121.60" y2="80.40" stroke="#000" stroke-width="1.3"/>
<line x1="116.40" y1="97.82" x2="121.60" y2="97.82" stroke="#000" stroke-width="1.3"/>
<line x1="165.38" y1="55.89" x2="165.38" y2="78.76" stroke="#000" stroke-width="1.3"/>
<line x1="162.78" y1="55.89" x2="167.97" y2="55.89" stroke="#000" stroke-width="1.3"/>
<line x1="162.78" y1="78.76" x2="167.97" y2="78.76" stroke="#000" stroke-width="1.3"/>
<line x1="178.88" y1="45.55" x2="178.88" y2="57.53" stroke="#000" stroke-width="1.3"/>
<line x1="176.28" y1="45.55" x2="181.47" y2="45.55" stroke="#000" stroke-width="1.3"/>
<line x1="176.28" y1="57.53" x2="181.47" y2="57.53" stroke="#000" stroke-width="1.3"/>
<line x1="212.00" y1="79.85" x2="212.00" y2="90.74" stroke="#000" stroke-width="1.3"/>
<line x1="209.40" y1="79.85" x2="214.60" y2="79.85" stroke="#000" stroke-width="1.3"/>
<line x1="209.40" y1="90.74" x2="214.60" y2="90.74" stroke="#000" stroke-width="1.3"/>
<line x1="225.00" y1="77.67" x2="225.00" y2="99.45" stroke="#000" stroke-width="1.3"/>
<line x1="222.40" y1="77.67" x2="227.60" y2="77.67" stroke="#000" stroke-width="1.3"/>
<line x1="222.40" y1="99.45" x2="227.60" y2="99.45" stroke="#000" stroke-width="1.3"/>
<line x1="102.30" y1="20.50" x2="102.30" y2="132.40" stroke="#111" stroke-width="1.4"/>
<line x1="99.00" y1="129.40" x2="242.00" y2="129.40" stroke="#111" stroke-width="1.3"/>
<line x1="102.30" y1="129.40" x2="102.30" y2="132.40" stroke="#444" stroke-width="1"/>
<line x1="148.87" y1="129.40" x2="148.87" y2="132.40" stroke="#444" stroke-width="1"/>
<line x1="195.43" y1="129.40" x2="195.43" y2="132.40" stroke="#444" stroke-width="1"/>
<line x1="242.00" y1="129.40" x2="242.00" y2="132.40" stroke="#444" stroke-width="1"/>
<line x1="99.00" y1="129.40" x2="102.30" y2="129.40" stroke="#333" stroke-width="1"/>
<text x="92.60" y="132.00" font-size="9.4" text-anchor="end" font-weight="normal" font-style="normal" fill="#111" >0</text>
<line x1="99.00" y1="102.18" x2="102.30" y2="102.18" stroke="#333" stroke-width="1"/>
<text x="92.60" y="104.78" font-size="9.4" text-anchor="end" font-weight="normal" font-style="normal" fill="#111" >50</text>
<line x1="99.00" y1="74.95" x2="102.30" y2="74.95" stroke="#333" stroke-width="1"/>
<text x="92.60" y="77.55" font-size="9.4" text-anchor="end" font-weight="normal" font-style="normal" fill="#111" >100</text>
<line x1="99.00" y1="47.73" x2="102.30" y2="47.73" stroke="#333" stroke-width="1"/>
<text x="92.60" y="50.33" font-size="9.4" text-anchor="end" font-weight="normal" font-style="normal" fill="#111" >150</text>
<line x1="99.00" y1="20.50" x2="102.30" y2="20.50" stroke="#333" stroke-width="1"/>
<text x="92.60" y="23.10" font-size="9.4" text-anchor="end" font-weight="normal" font-style="normal" fill="#111" >200</text>
<text x="125.88" y="149.60" font-size="9.4" text-anchor="middle" font-weight="normal" font-style="normal" fill="#111" textLength="31.4" lengthAdjust="spacingAndGlyphs">Control</text>
<text x="172.15" y="149.60" font-size="9.4" text-anchor="middle" font-weight="normal" font-style="normal" fill="#111" >i.v.</text>
<text x="218.72" y="149.60" font-size="9.4" text-anchor="middle" font-weight="normal" font-style="normal" fill="#111" >i.p.</text>
<text x="171.20" y="11.90" font-size="10.6" text-anchor="middle" font-weight="bold" font-style="italic" fill="#111" textLength="17.3" lengthAdjust="spacingAndGlyphs" style="stroke-width:0.4px">SPL</text>
<rect x="283" y="20.5" width="135.5" height="108.9" fill="#fff" stroke="#6a6a6a" stroke-width="1"/>
<rect x="292.50" y="108.07" width="13.00" height="21.33" fill="#fff" stroke="#1a1a1a" stroke-width="1"/>
<rect x="337.50" y="97.64" width="13.00" height="31.76" fill="#707070" stroke="#262626" stroke-width="1"/>
<rect x="350.50" y="67.24" width="13.00" height="62.16" fill="#2f2f2f" stroke="#0a0a0a" stroke-width="1"/>
<rect x="383.50" y="95.37" width="12.50" height="34.03" fill="#707070" stroke="#262626" stroke-width="1"/>
<rect x="396.00" y="38.20" width="13.00" height="91.20" fill="#2f2f2f" stroke="#0a0a0a" stroke-width="1"/>
<line x1="299.00" y1="103.99" x2="299.00" y2="112.16" stroke="#000" stroke-width="1.3"/>
<line x1="296.40" y1="103.99" x2="301.60" y2="103.99" stroke="#000" stroke-width="1.3"/>
<line x1="296.40" y1="112.16" x2="301.60" y2="112.16" stroke="#000" stroke-width="1.3"/>
<line x1="344.00" y1="82.66" x2="344.00" y2="112.61" stroke="#000" stroke-width="1.3"/>
<line x1="341.40" y1="82.66" x2="346.60" y2="82.66" stroke="#000" stroke-width="1.3"/>
<line x1="341.40" y1="112.61" x2="346.60" y2="112.61" stroke="#000" stroke-width="1.3"/>
<line x1="357.00" y1="54.98" x2="357.00" y2="79.49" stroke="#000" stroke-width="1.3"/>
<line x1="354.40" y1="54.98" x2="359.60" y2="54.98" stroke="#000" stroke-width="1.3"/>
<line x1="354.40" y1="79.49" x2="359.60" y2="79.49" stroke="#000" stroke-width="1.3"/>
<line x1="389.75" y1="71.77" x2="389.75" y2="119.87" stroke="#000" stroke-width="1.3"/>
<line x1="387.15" y1="71.77" x2="392.35" y2="71.77" stroke="#000" stroke-width="1.3"/>
<line x1="387.15" y1="119.87" x2="392.35" y2="119.87" stroke="#000" stroke-width="1.3"/>
<line x1="402.50" y1="29.12" x2="402.50" y2="47.27" stroke="#000" stroke-width="1.3"/>
<line x1="399.90" y1="29.12" x2="405.10" y2="29.12" stroke="#000" stroke-width="1.3"/>
<line x1="399.90" y1="47.27" x2="405.10" y2="47.27" stroke="#000" stroke-width="1.3"/>
<line x1="283.00" y1="20.50" x2="283.00" y2="132.40" stroke="#111" stroke-width="1.4"/>
<line x1="279.70" y1="129.40" x2="418.50" y2="129.40" stroke="#111" stroke-width="1.3"/>
<line x1="283.00" y1="129.40" x2="283.00" y2="132.40" stroke="#444" stroke-width="1"/>
<line x1="328.17" y1="129.40" x2="328.17" y2="132.40" stroke="#444" stroke-width="1"/>
<line x1="373.33" y1="129.40" x2="373.33" y2="132.40" stroke="#444" stroke-width="1"/>
<line x1="418.50" y1="129.40" x2="418.50" y2="132.40" stroke="#444" stroke-width="1"/>
<line x1="279.70" y1="129.40" x2="283.00" y2="129.40" stroke="#333" stroke-width="1"/>
<text x="273.30" y="132.00" font-size="9.4" text-anchor="end" font-weight="normal" font-style="normal" fill="#111" >0</text>
<line x1="279.70" y1="111.25" x2="283.00" y2="111.25" stroke="#333" stroke-width="1"/>
<text x="273.30" y="113.85" font-size="9.4" text-anchor="end" font-weight="normal" font-style="normal" fill="#111" >2</text>
<line x1="279.70" y1="93.10" x2="283.00" y2="93.10" stroke="#333" stroke-width="1"/>
<text x="273.30" y="95.70" font-size="9.4" text-anchor="end" font-weight="normal" font-style="normal" fill="#111" >4</text>
<line x1="279.70" y1="74.95" x2="283.00" y2="74.95" stroke="#333" stroke-width="1"/>
<text x="273.30" y="77.55" font-size="9.4" text-anchor="end" font-weight="normal" font-style="normal" fill="#111" >6</text>
<line x1="279.70" y1="56.80" x2="283.00" y2="56.80" stroke="#333" stroke-width="1"/>
<text x="273.30" y="59.40" font-size="9.4" text-anchor="end" font-weight="normal" font-style="normal" fill="#111" >8</text>
<line x1="279.70" y1="38.65" x2="283.00" y2="38.65" stroke="#333" stroke-width="1"/>
<text x="273.30" y="41.25" font-size="9.4" text-anchor="end" font-weight="normal" font-style="normal" fill="#111" >10</text>
<line x1="279.70" y1="20.50" x2="283.00" y2="20.50" stroke="#333" stroke-width="1"/>
<text x="273.30" y="23.10" font-size="9.4" text-anchor="end" font-weight="normal" font-style="normal" fill="#111" >12</text>
<text x="305.88" y="149.60" font-size="9.4" text-anchor="middle" font-weight="normal" font-style="normal" fill="#111" textLength="31.4" lengthAdjust="spacingAndGlyphs">Control</text>
<text x="350.75" y="149.60" font-size="9.4" text-anchor="middle" font-weight="normal" font-style="normal" fill="#111" >i.v.</text>
<text x="395.92" y="149.60" font-size="9.4" text-anchor="middle" font-weight="normal" font-style="normal" fill="#111" >i.p.</text>
<text x="346.25" y="11.90" font-size="10.6" text-anchor="middle" font-weight="bold" font-style="italic" fill="#111" textLength="19.6" lengthAdjust="spacingAndGlyphs" style="stroke-width:0.4px">PLN</text>
<rect x="102.3" y="184.4" width="139.7" height="109.4" fill="#fff" stroke="#6a6a6a" stroke-width="1"/>
<rect x="112.50" y="232.54" width="13.00" height="61.26" fill="#fff" stroke="#1a1a1a" stroke-width="1"/>
<rect x="158.50" y="241.29" width="13.75" height="52.51" fill="#707070" stroke="#262626" stroke-width="1"/>
<rect x="172.25" y="233.63" width="13.25" height="60.17" fill="#2f2f2f" stroke="#0a0a0a" stroke-width="1"/>
<rect x="205.50" y="250.04" width="13.00" height="43.76" fill="#707070" stroke="#262626" stroke-width="1"/>
<rect x="218.50" y="207.92" width="13.00" height="85.88" fill="#2f2f2f" stroke="#0a0a0a" stroke-width="1"/>
<line x1="119.00" y1="224.33" x2="119.00" y2="240.74" stroke="#000" stroke-width="1.3"/>
<line x1="116.40" y1="224.33" x2="121.60" y2="224.33" stroke="#000" stroke-width="1.3"/>
<line x1="116.40" y1="240.74" x2="121.60" y2="240.74" stroke="#000" stroke-width="1.3"/>
<line x1="165.38" y1="229.25" x2="165.38" y2="253.32" stroke="#000" stroke-width="1.3"/>
<line x1="162.78" y1="229.25" x2="167.97" y2="229.25" stroke="#000" stroke-width="1.3"/>
<line x1="162.78" y1="253.32" x2="167.97" y2="253.32" stroke="#000" stroke-width="1.3"/>
<line x1="178.88" y1="230.35" x2="178.88" y2="236.91" stroke="#000" stroke-width="1.3"/>
<line x1="176.28" y1="230.35" x2="181.47" y2="230.35" stroke="#000" stroke-width="1.3"/>
<line x1="176.28" y1="236.91" x2="181.47" y2="236.91" stroke="#000" stroke-width="1.3"/>
<line x1="212.00" y1="241.84" x2="212.00" y2="258.25" stroke="#000" stroke-width="1.3"/>
<line x1="209.40" y1="241.84" x2="214.60" y2="241.84" stroke="#000" stroke-width="1.3"/>
<line x1="209.40" y1="258.25" x2="214.60" y2="258.25" stroke="#000" stroke-width="1.3"/>
<line x1="225.00" y1="195.34" x2="225.00" y2="220.50" stroke="#000" stroke-width="1.3"/>
<line x1="222.40" y1="195.34" x2="227.60" y2="195.34" stroke="#000" stroke-width="1.3"/>
<line x1="222.40" y1="220.50" x2="227.60" y2="220.50" stroke="#000" stroke-width="1.3"/>
<line x1="102.30" y1="184.40" x2="102.30" y2="296.80" stroke="#111" stroke-width="1.4"/>
<line x1="99.00" y1="293.80" x2="242.00" y2="293.80" stroke="#111" stroke-width="1.3"/>
<line x1="102.30" y1="293.80" x2="102.30" y2="296.80" stroke="#444" stroke-width="1"/>
<line x1="148.87" y1="293.80" x2="148.87" y2="296.80" stroke="#444" stroke-width="1"/>
<line x1="195.43" y1="293.80" x2="195.43" y2="296.80" stroke="#444" stroke-width="1"/>
<line x1="242.00" y1="293.80" x2="242.00" y2="296.80" stroke="#444" stroke-width="1"/>
<line x1="99.00" y1="293.80" x2="102.30" y2="293.80" stroke="#333" stroke-width="1"/>
<text x="92.60" y="296.40" font-size="9.4" text-anchor="end" font-weight="normal" font-style="normal" fill="#111" >0</text>
<line x1="99.00" y1="266.45" x2="102.30" y2="266.45" stroke="#333" stroke-width="1"/>
<text x="92.60" y="269.05" font-size="9.4" text-anchor="end" font-weight="normal" font-style="normal" fill="#111" >5</text>
<line x1="99.00" y1="239.10" x2="102.30" y2="239.10" stroke="#333" stroke-width="1"/>
<text x="92.60" y="241.70" font-size="9.4" text-anchor="end" font-weight="normal" font-style="normal" fill="#111" >10</text>
<line x1="99.00" y1="211.75" x2="102.30" y2="211.75" stroke="#333" stroke-width="1"/>
<text x="92.60" y="214.35" font-size="9.4" text-anchor="end" font-weight="normal" font-style="normal" fill="#111" >15</text>
<line x1="99.00" y1="184.40" x2="102.30" y2="184.40" stroke="#333" stroke-width="1"/>
<text x="92.60" y="187.00" font-size="9.4" text-anchor="end" font-weight="normal" font-style="normal" fill="#111" >20</text>
<text x="125.88" y="314.00" font-size="9.4" text-anchor="middle" font-weight="normal" font-style="normal" fill="#111" textLength="31.4" lengthAdjust="spacingAndGlyphs">Control</text>
<text x="172.15" y="314.00" font-size="9.4" text-anchor="middle" font-weight="normal" font-style="normal" fill="#111" >i.v.</text>
<text x="218.72" y="314.00" font-size="9.4" text-anchor="middle" font-weight="normal" font-style="normal" fill="#111" >i.p.</text>
<text x="171.40" y="175.80" font-size="10.6" text-anchor="middle" font-weight="bold" font-style="italic" fill="#111" textLength="23.7" lengthAdjust="spacingAndGlyphs" style="stroke-width:0.4px">MLN</text>
<rect x="282.8" y="184.4" width="135.89999999999998" height="109.4" fill="#fff" stroke="#6a6a6a" stroke-width="1"/>
<rect x="292.50" y="271.24" width="13.00" height="22.56" fill="#fff" stroke="#1a1a1a" stroke-width="1"/>
<rect x="337.50" y="275.34" width="13.00" height="18.46" fill="#707070" stroke="#262626" stroke-width="1"/>
<rect x="350.50" y="268.50" width="13.00" height="25.30" fill="#2f2f2f" stroke="#0a0a0a" stroke-width="1"/>
<rect x="383.50" y="275.07" width="12.50" height="18.73" fill="#707070" stroke="#262626" stroke-width="1"/>
<rect x="396.00" y="224.47" width="13.00" height="69.33" fill="#2f2f2f" stroke="#0a0a0a" stroke-width="1"/>
<line x1="299.00" y1="264.40" x2="299.00" y2="278.07" stroke="#000" stroke-width="1.3"/>
<line x1="296.40" y1="264.40" x2="301.60" y2="264.40" stroke="#000" stroke-width="1.3"/>
<line x1="296.40" y1="278.07" x2="301.60" y2="278.07" stroke="#000" stroke-width="1.3"/>
<line x1="344.00" y1="269.46" x2="344.00" y2="281.22" stroke="#000" stroke-width="1.3"/>
<line x1="341.40" y1="269.46" x2="346.60" y2="269.46" stroke="#000" stroke-width="1.3"/>
<line x1="341.40" y1="281.22" x2="346.60" y2="281.22" stroke="#000" stroke-width="1.3"/>
<line x1="357.00" y1="260.30" x2="357.00" y2="276.71" stroke="#000" stroke-width="1.3"/>
<line x1="354.40" y1="260.30" x2="359.60" y2="260.30" stroke="#000" stroke-width="1.3"/>
<line x1="354.40" y1="276.71" x2="359.60" y2="276.71" stroke="#000" stroke-width="1.3"/>
<line x1="389.75" y1="273.42" x2="389.75" y2="276.71" stroke="#000" stroke-width="1.3"/>
<line x1="387.15" y1="273.42" x2="392.35" y2="273.42" stroke="#000" stroke-width="1.3"/>
<line x1="387.15" y1="276.71" x2="392.35" y2="276.71" stroke="#000" stroke-width="1.3"/>
<line x1="402.50" y1="202.18" x2="402.50" y2="246.76" stroke="#000" stroke-width="1.3"/>
<line x1="399.90" y1="202.18" x2="405.10" y2="202.18" stroke="#000" stroke-width="1.3"/>
<line x1="399.90" y1="246.76" x2="405.10" y2="246.76" stroke="#000" stroke-width="1.3"/>
<line x1="282.80" y1="184.40" x2="282.80" y2="296.80" stroke="#111" stroke-width="1.4"/>
<line x1="279.50" y1="293.80" x2="418.70" y2="293.80" stroke="#111" stroke-width="1.3"/>
<line x1="282.80" y1="293.80" x2="282.80" y2="296.80" stroke="#444" stroke-width="1"/>
<line x1="328.10" y1="293.80" x2="328.10" y2="296.80" stroke="#444" stroke-width="1"/>
<line x1="373.40" y1="293.80" x2="373.40" y2="296.80" stroke="#444" stroke-width="1"/>
<line x1="418.70" y1="293.80" x2="418.70" y2="296.80" stroke="#444" stroke-width="1"/>
<line x1="279.50" y1="293.80" x2="282.80" y2="293.80" stroke="#333" stroke-width="1"/>
<text x="273.10" y="296.40" font-size="9.4" text-anchor="end" font-weight="normal" font-style="normal" fill="#111" >0</text>
<line x1="279.50" y1="266.45" x2="282.80" y2="266.45" stroke="#333" stroke-width="1"/>
<text x="273.10" y="269.05" font-size="9.4" text-anchor="end" font-weight="normal" font-style="normal" fill="#111" >2</text>
<line x1="279.50" y1="239.10" x2="282.80" y2="239.10" stroke="#333" stroke-width="1"/>
<text x="273.10" y="241.70" font-size="9.4" text-anchor="end" font-weight="normal" font-style="normal" fill="#111" >4</text>
<line x1="279.50" y1="211.75" x2="282.80" y2="211.75" stroke="#333" stroke-width="1"/>
<text x="273.10" y="214.35" font-size="9.4" text-anchor="end" font-weight="normal" font-style="normal" fill="#111" >6</text>
<line x1="279.50" y1="184.40" x2="282.80" y2="184.40" stroke="#333" stroke-width="1"/>
<text x="273.10" y="187.00" font-size="9.4" text-anchor="end" font-weight="normal" font-style="normal" fill="#111" >8</text>
<text x="305.75" y="314.00" font-size="9.4" text-anchor="middle" font-weight="normal" font-style="normal" fill="#111" textLength="31.4" lengthAdjust="spacingAndGlyphs">Control</text>
<text x="350.75" y="314.00" font-size="9.4" text-anchor="middle" font-weight="normal" font-style="normal" fill="#111" >i.v.</text>
<text x="396.05" y="314.00" font-size="9.4" text-anchor="middle" font-weight="normal" font-style="normal" fill="#111" >i.p.</text>
<text x="345.60" y="175.80" font-size="10.6" text-anchor="middle" font-weight="bold" font-style="italic" fill="#111" textLength="18.2" lengthAdjust="spacingAndGlyphs" style="stroke-width:0.4px">LLN</text>
<path d="M120.00,40.00 L120.00,37.70 Q120.00,36.50 121.20,36.50 L177.80,36.50 Q179.00,36.50 179.00,37.70 L179.00,40.00" fill="none" stroke="#000" stroke-width="1.3"/>
<text x="133.00" y="34.00" font-size="7.55" fill="#111"><tspan font-style="italic">P</tspan> = .0005</text>
<path d="M184.00,40.00 L184.00,37.70 Q184.00,36.50 185.20,36.50 L226.80,36.50 Q228.00,36.50 228.00,37.70 L228.00,40.00" fill="none" stroke="#000" stroke-width="1.3"/>
<text x="191.50" y="34.00" font-size="7.55" fill="#111"><tspan font-style="italic">P</tspan> = .012</text>
<path d="M297.50,33.50 L297.50,31.20 Q297.50,30.00 298.70,30.00 L397.80,30.00 Q399.00,30.00 399.00,31.20 L399.00,33.50" fill="none" stroke="#000" stroke-width="1.3"/>
<text x="334.00" y="28.00" font-size="7.55" fill="#111"><tspan font-style="italic">P</tspan> = .0026</text>
<path d="M297.50,58.50 L297.50,56.20 Q297.50,55.00 298.70,55.00 L355.80,55.00 Q357.00,55.00 357.00,56.20 L357.00,58.50" fill="none" stroke="#000" stroke-width="1.3"/>
<text x="311.00" y="53.00" font-size="7.55" fill="#111"><tspan font-style="italic">P</tspan> = .023</text>
<path d="M361.00,58.50 L361.00,56.20 Q361.00,55.00 362.20,55.00 L397.80,55.00 Q399.00,55.00 399.00,56.20 L399.00,58.50" fill="none" stroke="#000" stroke-width="1.3"/>
<text x="362.50" y="53.00" font-size="7.55" fill="#111"><tspan font-style="italic">P</tspan> = .034</text>
<path d="M209.50,203.75 L209.50,201.70 Q209.50,200.50 210.70,200.50 L221.80,200.50 Q223.00,200.50 223.00,201.70 L223.00,203.75" fill="none" stroke="#000" stroke-width="1.3"/>
<text x="193.00" y="195.00" font-size="7.55" fill="#111"><tspan font-style="italic">P</tspan> = .013</text>
<path d="M385.75,216.25 L385.75,213.70 Q385.75,212.50 386.95,212.50 L397.55,212.50 Q398.75,212.50 398.75,213.70 L398.75,216.25" fill="none" stroke="#000" stroke-width="1.3"/>
<text x="368.75" y="207.00" font-size="7.55" fill="#111"><tspan font-style="italic">P</tspan> = .056</text>
<text transform="translate(64.2,150.4) rotate(-90)" font-size="9.55" text-anchor="middle" fill="#111">Total number of cells recovered from tissue (x10<tspan font-size="5.8" dy="-3.3">6</tspan><tspan dy="3.3">)</tspan></text>
<rect x="444.60" y="150.20" width="5.40" height="5.70" fill="#fff" stroke="#222" stroke-width="1.2"/>
<text x="458.40" y="156.90" font-size="10.2" text-anchor="start" font-weight="normal" font-style="normal" fill="#111" >Day 0</text>
<rect x="444.60" y="162.90" width="5.40" height="5.70" fill="#b8b8b8" stroke="#222" stroke-width="1.2"/>
<text x="458.40" y="169.80" font-size="10.2" text-anchor="start" font-weight="normal" font-style="normal" fill="#111" >Day 1</text>
<rect x="444.60" y="175.45" width="5.40" height="5.70" fill="#484848" stroke="#222" stroke-width="1.2"/>
<text x="458.40" y="182.50" font-size="10.2" text-anchor="start" font-weight="normal" font-style="normal" fill="#111" >Day 2</text>
<text x="48.60" y="12.90" font-size="16" text-anchor="start" font-weight="bold" font-style="normal" fill="#000" textLength="13.6" lengthAdjust="spacingAndGlyphs">A</text>
<text x="0.90" y="343.80" font-size="16" text-anchor="start" font-weight="bold" font-style="normal" fill="#000" >B</text>
<text x="181.50" y="343.80" font-size="16" text-anchor="start" font-weight="bold" font-style="normal" fill="#000" >C</text>
<text x="354.00" y="343.80" font-size="16" text-anchor="start" font-weight="bold" font-style="normal" fill="#000" >D</text>
<line x1="52.30" y1="354.00" x2="173.00" y2="354.00" stroke="#3a3a3a" stroke-width="1.5"/>
<line x1="172.50" y1="354.00" x2="172.50" y2="536.00" stroke="#3a3a3a" stroke-width="1.1"/>
<rect x="60.75" y="503.74" width="11.75" height="32.26" fill="url(#piv)" stroke="#0a0a0a" stroke-width="1.3"/>
<rect x="72.50" y="532.28" width="11.75" height="3.72" fill="url(#pip)" stroke="#0a0a0a" stroke-width="1.3"/>
<rect x="100.75" y="480.57" width="11.75" height="55.43" fill="url(#piv)" stroke="#0a0a0a" stroke-width="1.3"/>
<rect x="112.50" y="387.09" width="11.75" height="148.91" fill="url(#pip)" stroke="#0a0a0a" stroke-width="1.3"/>
<rect x="140.75" y="533.52" width="11.75" height="2.48" fill="#ddd" stroke="#222" stroke-width="0.7"/>
<rect x="152.50" y="522.35" width="11.75" height="13.65" fill="url(#pip)" stroke="#0a0a0a" stroke-width="1.3"/>
<line x1="66.62" y1="500.84" x2="66.62" y2="506.63" stroke="#000" stroke-width="1.05"/>
<line x1="64.33" y1="500.84" x2="68.92" y2="500.84" stroke="#000" stroke-width="1.05"/>
<line x1="64.33" y1="506.63" x2="68.92" y2="506.63" stroke="#000" stroke-width="1.05"/>
<line x1="78.38" y1="530.21" x2="78.38" y2="534.35" stroke="#000" stroke-width="1.05"/>
<line x1="76.08" y1="530.21" x2="80.67" y2="530.21" stroke="#000" stroke-width="1.05"/>
<line x1="76.08" y1="534.35" x2="80.67" y2="534.35" stroke="#000" stroke-width="1.05"/>
<line x1="106.62" y1="472.71" x2="106.62" y2="488.43" stroke="#000" stroke-width="1.05"/>
<line x1="104.33" y1="472.71" x2="108.92" y2="472.71" stroke="#000" stroke-width="1.05"/>
<line x1="104.33" y1="488.43" x2="108.92" y2="488.43" stroke="#000" stroke-width="1.05"/>
<line x1="118.38" y1="360.62" x2="118.38" y2="413.56" stroke="#000" stroke-width="1.05"/>
<line x1="116.08" y1="360.62" x2="120.67" y2="360.62" stroke="#000" stroke-width="1.05"/>
<line x1="116.08" y1="413.56" x2="120.67" y2="413.56" stroke="#000" stroke-width="1.05"/>
<line x1="158.38" y1="518.63" x2="158.38" y2="526.07" stroke="#000" stroke-width="1.05"/>
<line x1="156.07" y1="518.63" x2="160.68" y2="518.63" stroke="#000" stroke-width="1.05"/>
<line x1="156.07" y1="526.07" x2="160.68" y2="526.07" stroke="#000" stroke-width="1.05"/>
<line x1="52.30" y1="354.00" x2="52.30" y2="536.00" stroke="#111" stroke-width="1.2"/>
<line x1="49.30" y1="536.00" x2="172.50" y2="536.00" stroke="#111" stroke-width="1.4"/>
<line x1="52.30" y1="536.00" x2="52.30" y2="539.00" stroke="#666" stroke-width="1"/>
<line x1="92.37" y1="536.00" x2="92.37" y2="539.00" stroke="#666" stroke-width="1"/>
<line x1="132.43" y1="536.00" x2="132.43" y2="539.00" stroke="#666" stroke-width="1"/>
<line x1="172.50" y1="536.00" x2="172.50" y2="539.00" stroke="#666" stroke-width="1"/>
<line x1="49.50" y1="536.00" x2="52.30" y2="536.00" stroke="#999" stroke-width="1"/>
<text x="42.70" y="538.80" font-size="8.1" text-anchor="end" font-weight="normal" font-style="normal" fill="#111" >0</text>
<line x1="49.50" y1="519.45" x2="52.30" y2="519.45" stroke="#999" stroke-width="1"/>
<text x="42.70" y="522.25" font-size="8.1" text-anchor="end" font-weight="normal" font-style="normal" fill="#111" >2000</text>
<line x1="49.50" y1="502.91" x2="52.30" y2="502.91" stroke="#999" stroke-width="1"/>
<text x="42.70" y="505.71" font-size="8.1" text-anchor="end" font-weight="normal" font-style="normal" fill="#111" >4000</text>
<line x1="49.50" y1="486.36" x2="52.30" y2="486.36" stroke="#999" stroke-width="1"/>
<text x="42.70" y="489.16" font-size="8.1" text-anchor="end" font-weight="normal" font-style="normal" fill="#111" >6000</text>
<line x1="49.50" y1="469.82" x2="52.30" y2="469.82" stroke="#999" stroke-width="1"/>
<text x="42.70" y="472.62" font-size="8.1" text-anchor="end" font-weight="normal" font-style="normal" fill="#111" >8000</text>
<line x1="49.50" y1="453.27" x2="52.30" y2="453.27" stroke="#999" stroke-width="1"/>
<text x="42.70" y="456.07" font-size="8.1" text-anchor="end" font-weight="normal" font-style="normal" fill="#111" >10000</text>
<line x1="49.50" y1="436.73" x2="52.30" y2="436.73" stroke="#999" stroke-width="1"/>
<text x="42.70" y="439.53" font-size="8.1" text-anchor="end" font-weight="normal" font-style="normal" fill="#111" >12000</text>
<line x1="49.50" y1="420.18" x2="52.30" y2="420.18" stroke="#999" stroke-width="1"/>
<text x="42.70" y="422.98" font-size="8.1" text-anchor="end" font-weight="normal" font-style="normal" fill="#111" >14000</text>
<line x1="49.50" y1="403.64" x2="52.30" y2="403.64" stroke="#999" stroke-width="1"/>
<text x="42.70" y="406.44" font-size="8.1" text-anchor="end" font-weight="normal" font-style="normal" fill="#111" >16000</text>
<line x1="49.50" y1="387.09" x2="52.30" y2="387.09" stroke="#999" stroke-width="1"/>
<text x="42.70" y="389.89" font-size="8.1" text-anchor="end" font-weight="normal" font-style="normal" fill="#111" >18000</text>
<line x1="49.50" y1="370.55" x2="52.30" y2="370.55" stroke="#999" stroke-width="1"/>
<text x="42.70" y="373.35" font-size="8.1" text-anchor="end" font-weight="normal" font-style="normal" fill="#111" >20000</text>
<line x1="49.50" y1="354.00" x2="52.30" y2="354.00" stroke="#999" stroke-width="1"/>
<text x="42.70" y="356.80" font-size="8.1" text-anchor="end" font-weight="normal" font-style="normal" fill="#111" >22000</text>
<text x="72.50" y="553.75" font-size="8.1" text-anchor="middle" font-weight="normal" font-style="normal" fill="#111" >SPL</text>
<text x="112.50" y="553.75" font-size="8.1" text-anchor="middle" font-weight="normal" font-style="normal" fill="#111" >PLN</text>
<text x="152.50" y="553.75" font-size="8.1" text-anchor="middle" font-weight="normal" font-style="normal" fill="#111" >MLN</text>
<path d="M64.50,497.00 L64.50,494.95 Q64.50,493.75 65.70,493.75 L75.80,493.75 Q77.00,493.75 77.00,494.95 L77.00,497.00" fill="none" stroke="#000" stroke-width="1.15"/>
<text x="53.75" y="491.25" font-size="7.55" fill="#111"><tspan font-style="italic">P</tspan> = .0005</text>
<path d="M101.25,382.50 L101.25,380.70 Q101.25,379.50 102.45,379.50 L113.80,379.50 Q115.00,379.50 115.00,380.70 L115.00,382.50" fill="none" stroke="#000" stroke-width="1.15"/>
<text x="85.00" y="377.00" font-size="7.55" fill="#111"><tspan font-style="italic">P</tspan> = .059</text>
<path d="M146.25,515.50 L146.25,513.70 Q146.25,512.50 147.45,512.50 L158.30,512.50 Q159.50,512.50 159.50,513.70 L159.50,515.50" fill="none" stroke="#000" stroke-width="1.15"/>
<text x="140.00" y="510.00" font-size="7.55" fill="#111"><tspan font-style="italic">P</tspan> = .073</text>
<text transform="translate(8.4,450.4) rotate(-90)" font-size="9.45" text-anchor="middle" fill="#111">RLU/mg tissue</text>
<line x1="222.40" y1="354.65" x2="340.00" y2="354.65" stroke="#3a3a3a" stroke-width="1.2"/>
<line x1="339.50" y1="354.65" x2="339.50" y2="536.80" stroke="#3a3a3a" stroke-width="1.1"/>
<rect x="230.80" y="508.47" width="11.20" height="28.33" fill="url(#piv)" stroke="#0a0a0a" stroke-width="1.3"/>
<rect x="242.00" y="529.72" width="11.25" height="7.08" fill="url(#pip)" stroke="#0a0a0a" stroke-width="1.3"/>
<rect x="269.25" y="505.43" width="11.50" height="31.37" fill="url(#piv)" stroke="#0a0a0a" stroke-width="1.3"/>
<rect x="280.75" y="407.27" width="11.75" height="129.53" fill="url(#pip)" stroke="#0a0a0a" stroke-width="1.3"/>
<rect x="308.75" y="531.74" width="11.25" height="5.06" fill="url(#piv)" stroke="#0a0a0a" stroke-width="1.3"/>
<rect x="320.00" y="532.55" width="11.75" height="4.25" fill="url(#pip)" stroke="#0a0a0a" stroke-width="1.3"/>
<line x1="236.40" y1="506.44" x2="236.40" y2="510.49" stroke="#000" stroke-width="1.05"/>
<line x1="234.10" y1="506.44" x2="238.70" y2="506.44" stroke="#000" stroke-width="1.05"/>
<line x1="234.10" y1="510.49" x2="238.70" y2="510.49" stroke="#000" stroke-width="1.05"/>
<line x1="247.62" y1="528.91" x2="247.62" y2="530.53" stroke="#000" stroke-width="1.05"/>
<line x1="245.32" y1="528.91" x2="249.93" y2="528.91" stroke="#000" stroke-width="1.05"/>
<line x1="245.32" y1="530.53" x2="249.93" y2="530.53" stroke="#000" stroke-width="1.05"/>
<line x1="275.00" y1="500.37" x2="275.00" y2="510.49" stroke="#000" stroke-width="1.05"/>
<line x1="272.70" y1="500.37" x2="277.30" y2="500.37" stroke="#000" stroke-width="1.05"/>
<line x1="272.70" y1="510.49" x2="277.30" y2="510.49" stroke="#000" stroke-width="1.05"/>
<line x1="286.62" y1="372.86" x2="286.62" y2="441.68" stroke="#000" stroke-width="1.05"/>
<line x1="284.32" y1="372.86" x2="288.93" y2="372.86" stroke="#000" stroke-width="1.05"/>
<line x1="284.32" y1="441.68" x2="288.93" y2="441.68" stroke="#000" stroke-width="1.05"/>
<line x1="314.38" y1="530.93" x2="314.38" y2="532.55" stroke="#000" stroke-width="1.05"/>
<line x1="312.07" y1="530.93" x2="316.68" y2="530.93" stroke="#000" stroke-width="1.05"/>
<line x1="312.07" y1="532.55" x2="316.68" y2="532.55" stroke="#000" stroke-width="1.05"/>
<line x1="325.88" y1="531.94" x2="325.88" y2="533.16" stroke="#000" stroke-width="1.05"/>
<line x1="323.57" y1="531.94" x2="328.18" y2="531.94" stroke="#000" stroke-width="1.05"/>
<line x1="323.57" y1="533.16" x2="328.18" y2="533.16" stroke="#000" stroke-width="1.05"/>
<line x1="222.40" y1="354.65" x2="222.40" y2="536.80" stroke="#111" stroke-width="1.2"/>
<line x1="219.40" y1="536.80" x2="339.50" y2="536.80" stroke="#111" stroke-width="1.4"/>
<line x1="222.40" y1="536.80" x2="222.40" y2="539.80" stroke="#666" stroke-width="1"/>
<line x1="261.90" y1="536.80" x2="261.90" y2="539.80" stroke="#666" stroke-width="1"/>
<line x1="300.90" y1="536.80" x2="300.90" y2="539.80" stroke="#666" stroke-width="1"/>
<line x1="339.60" y1="536.80" x2="339.60" y2="539.80" stroke="#666" stroke-width="1"/>
<line x1="219.60" y1="536.80" x2="222.40" y2="536.80" stroke="#444" stroke-width="1"/>
<text x="212.90" y="539.60" font-size="8.1" text-anchor="end" font-weight="normal" font-style="normal" fill="#111" >0</text>
<line x1="219.60" y1="516.56" x2="222.40" y2="516.56" stroke="#444" stroke-width="1"/>
<text x="212.90" y="519.36" font-size="8.1" text-anchor="end" font-weight="normal" font-style="normal" fill="#111" >0.02</text>
<line x1="219.60" y1="496.32" x2="222.40" y2="496.32" stroke="#444" stroke-width="1"/>
<text x="212.90" y="499.12" font-size="8.1" text-anchor="end" font-weight="normal" font-style="normal" fill="#111" >0.04</text>
<line x1="219.60" y1="476.08" x2="222.40" y2="476.08" stroke="#444" stroke-width="1"/>
<text x="212.90" y="478.88" font-size="8.1" text-anchor="end" font-weight="normal" font-style="normal" fill="#111" >0.06</text>
<line x1="219.60" y1="455.84" x2="222.40" y2="455.84" stroke="#444" stroke-width="1"/>
<text x="212.90" y="458.64" font-size="8.1" text-anchor="end" font-weight="normal" font-style="normal" fill="#111" >0.08</text>
<line x1="219.60" y1="435.61" x2="222.40" y2="435.61" stroke="#444" stroke-width="1"/>
<text x="212.90" y="438.41" font-size="8.1" text-anchor="end" font-weight="normal" font-style="normal" fill="#111" >0.1</text>
<line x1="219.60" y1="415.37" x2="222.40" y2="415.37" stroke="#444" stroke-width="1"/>
<text x="212.90" y="418.17" font-size="8.1" text-anchor="end" font-weight="normal" font-style="normal" fill="#111" >0.12</text>
<line x1="219.60" y1="395.13" x2="222.40" y2="395.13" stroke="#444" stroke-width="1"/>
<text x="212.90" y="397.93" font-size="8.1" text-anchor="end" font-weight="normal" font-style="normal" fill="#111" >0.14</text>
<line x1="219.60" y1="374.89" x2="222.40" y2="374.89" stroke="#444" stroke-width="1"/>
<text x="212.90" y="377.69" font-size="8.1" text-anchor="end" font-weight="normal" font-style="normal" fill="#111" >0.16</text>
<line x1="219.60" y1="354.65" x2="222.40" y2="354.65" stroke="#444" stroke-width="1"/>
<text x="212.90" y="357.45" font-size="8.1" text-anchor="end" font-weight="normal" font-style="normal" fill="#111" >0.18</text>
<text x="242.10" y="557.00" font-size="9.1" text-anchor="middle" font-weight="normal" font-style="normal" fill="#111" textLength="14" lengthAdjust="spacingAndGlyphs">SPL</text>
<text x="280.90" y="557.00" font-size="9.1" text-anchor="middle" font-weight="normal" font-style="normal" fill="#111" textLength="15.8" lengthAdjust="spacingAndGlyphs">PLN</text>
<text x="320.40" y="557.00" font-size="9.1" text-anchor="middle" font-weight="normal" font-style="normal" fill="#111" textLength="19.5" lengthAdjust="spacingAndGlyphs">MLN</text>
<path d="M234.50,503.00 L234.50,500.70 Q234.50,499.50 235.70,499.50 L246.30,499.50 Q247.50,499.50 247.50,500.70 L247.50,503.00" fill="none" stroke="#000" stroke-width="1.15"/>
<text x="226.25" y="497.50" font-size="7.55" fill="#111"><tspan font-style="italic">P</tspan> = .0002</text>
<path d="M272.50,401.75 L272.50,399.95 Q272.50,398.75 273.70,398.75 L284.30,398.75 Q285.50,398.75 285.50,399.95 L285.50,401.75" fill="none" stroke="#000" stroke-width="1.15"/>
<text x="255.00" y="396.25" font-size="7.55" fill="#111"><tspan font-style="italic">P</tspan> = .033</text>
<path d="M310.00,521.75 L310.00,519.45 Q310.00,518.25 311.20,518.25 L322.05,518.25 Q323.25,518.25 323.25,519.45 L323.25,521.75" fill="none" stroke="#000" stroke-width="1.15"/>
<text x="304.50" y="513.75" font-size="7.55" fill="#111"><tspan font-style="italic">P</tspan> = .45</text>
<text transform="translate(190.8,441.75) rotate(-90)" font-size="9.3" text-anchor="middle" fill="#111">% CFSE+ DCs</text>
<line x1="390.50" y1="354.40" x2="518.10" y2="354.40" stroke="#3a3a3a" stroke-width="1.2"/>
<line x1="517.60" y1="354.40" x2="517.60" y2="536.50" stroke="#3a3a3a" stroke-width="1.1"/>
<rect x="397.60" y="508.53" width="10.00" height="27.97" fill="#fff" stroke="#222" stroke-width="1.0"/>
<rect x="407.60" y="452.34" width="8.90" height="84.16" fill="url(#piv)" stroke="#0a0a0a" stroke-width="1.3"/>
<rect x="416.50" y="511.79" width="10.00" height="24.71" fill="url(#pip)" stroke="#0a0a0a" stroke-width="1.3"/>
<rect x="440.00" y="503.98" width="9.25" height="32.52" fill="#fff" stroke="#222" stroke-width="1.0"/>
<rect x="449.25" y="468.86" width="9.50" height="67.64" fill="url(#piv)" stroke="#0a0a0a" stroke-width="1.3"/>
<rect x="458.75" y="402.53" width="10.00" height="133.97" fill="url(#pip)" stroke="#0a0a0a" stroke-width="1.3"/>
<rect x="482.30" y="503.33" width="9.50" height="33.17" fill="#fff" stroke="#222" stroke-width="1.0"/>
<rect x="491.80" y="500.99" width="9.70" height="35.51" fill="url(#piv)" stroke="#0a0a0a" stroke-width="1.3"/>
<rect x="501.50" y="483.17" width="9.50" height="53.33" fill="url(#pip)" stroke="#0a0a0a" stroke-width="1.3"/>
<line x1="402.60" y1="508.01" x2="402.60" y2="509.05" stroke="#000" stroke-width="1.05"/>
<line x1="400.30" y1="508.01" x2="404.90" y2="508.01" stroke="#000" stroke-width="1.05"/>
<line x1="400.30" y1="509.05" x2="404.90" y2="509.05" stroke="#000" stroke-width="1.05"/>
<line x1="412.05" y1="448.18" x2="412.05" y2="456.51" stroke="#000" stroke-width="1.05"/>
<line x1="409.75" y1="448.18" x2="414.35" y2="448.18" stroke="#000" stroke-width="1.05"/>
<line x1="409.75" y1="456.51" x2="414.35" y2="456.51" stroke="#000" stroke-width="1.05"/>
<line x1="421.50" y1="509.45" x2="421.50" y2="514.13" stroke="#000" stroke-width="1.05"/>
<line x1="419.20" y1="509.45" x2="423.80" y2="509.45" stroke="#000" stroke-width="1.05"/>
<line x1="419.20" y1="514.13" x2="423.80" y2="514.13" stroke="#000" stroke-width="1.05"/>
<line x1="444.62" y1="501.12" x2="444.62" y2="506.84" stroke="#000" stroke-width="1.05"/>
<line x1="442.32" y1="501.12" x2="446.93" y2="501.12" stroke="#000" stroke-width="1.05"/>
<line x1="442.32" y1="506.84" x2="446.93" y2="506.84" stroke="#000" stroke-width="1.05"/>
<line x1="454.00" y1="464.31" x2="454.00" y2="473.42" stroke="#000" stroke-width="1.05"/>
<line x1="451.70" y1="464.31" x2="456.30" y2="464.31" stroke="#000" stroke-width="1.05"/>
<line x1="451.70" y1="473.42" x2="456.30" y2="473.42" stroke="#000" stroke-width="1.05"/>
<line x1="463.75" y1="392.38" x2="463.75" y2="412.67" stroke="#000" stroke-width="1.05"/>
<line x1="461.45" y1="392.38" x2="466.05" y2="392.38" stroke="#000" stroke-width="1.05"/>
<line x1="461.45" y1="412.67" x2="466.05" y2="412.67" stroke="#000" stroke-width="1.05"/>
<line x1="487.05" y1="501.38" x2="487.05" y2="505.28" stroke="#000" stroke-width="1.05"/>
<line x1="484.75" y1="501.38" x2="489.35" y2="501.38" stroke="#000" stroke-width="1.05"/>
<line x1="484.75" y1="505.28" x2="489.35" y2="505.28" stroke="#000" stroke-width="1.05"/>
<line x1="496.65" y1="496.05" x2="496.65" y2="505.93" stroke="#000" stroke-width="1.05"/>
<line x1="494.35" y1="496.05" x2="498.95" y2="496.05" stroke="#000" stroke-width="1.05"/>
<line x1="494.35" y1="505.93" x2="498.95" y2="505.93" stroke="#000" stroke-width="1.05"/>
<line x1="506.25" y1="478.62" x2="506.25" y2="487.72" stroke="#000" stroke-width="1.05"/>
<line x1="503.95" y1="478.62" x2="508.55" y2="478.62" stroke="#000" stroke-width="1.05"/>
<line x1="503.95" y1="487.72" x2="508.55" y2="487.72" stroke="#000" stroke-width="1.05"/>
<line x1="390.50" y1="354.40" x2="390.50" y2="536.50" stroke="#111" stroke-width="1.2"/>
<line x1="387.50" y1="536.50" x2="517.60" y2="536.50" stroke="#111" stroke-width="1.4"/>
<line x1="390.50" y1="536.50" x2="390.50" y2="539.50" stroke="#666" stroke-width="1"/>
<line x1="433.40" y1="536.50" x2="433.40" y2="539.50" stroke="#666" stroke-width="1"/>
<line x1="475.70" y1="536.50" x2="475.70" y2="539.50" stroke="#666" stroke-width="1"/>
<line x1="517.30" y1="536.50" x2="517.30" y2="539.50" stroke="#666" stroke-width="1"/>
<line x1="387.70" y1="536.50" x2="390.50" y2="536.50" stroke="#444" stroke-width="1"/>
<text x="381.80" y="539.30" font-size="8.1" text-anchor="end" font-weight="normal" font-style="normal" fill="#111" >0</text>
<line x1="387.70" y1="510.49" x2="390.50" y2="510.49" stroke="#444" stroke-width="1"/>
<text x="381.80" y="513.29" font-size="8.1" text-anchor="end" font-weight="normal" font-style="normal" fill="#111" >200</text>
<line x1="387.70" y1="484.47" x2="390.50" y2="484.47" stroke="#444" stroke-width="1"/>
<text x="381.80" y="487.27" font-size="8.1" text-anchor="end" font-weight="normal" font-style="normal" fill="#111" >400</text>
<line x1="387.70" y1="458.46" x2="390.50" y2="458.46" stroke="#444" stroke-width="1"/>
<text x="381.80" y="461.26" font-size="8.1" text-anchor="end" font-weight="normal" font-style="normal" fill="#111" >600</text>
<line x1="387.70" y1="432.44" x2="390.50" y2="432.44" stroke="#444" stroke-width="1"/>
<text x="381.80" y="435.24" font-size="8.1" text-anchor="end" font-weight="normal" font-style="normal" fill="#111" >800</text>
<line x1="387.70" y1="406.43" x2="390.50" y2="406.43" stroke="#444" stroke-width="1"/>
<text x="381.80" y="409.23" font-size="8.1" text-anchor="end" font-weight="normal" font-style="normal" fill="#111" >1000</text>
<line x1="387.70" y1="380.41" x2="390.50" y2="380.41" stroke="#444" stroke-width="1"/>
<text x="381.80" y="383.21" font-size="8.1" text-anchor="end" font-weight="normal" font-style="normal" fill="#111" >1200</text>
<line x1="387.70" y1="354.40" x2="390.50" y2="354.40" stroke="#444" stroke-width="1"/>
<text x="381.80" y="357.20" font-size="8.1" text-anchor="end" font-weight="normal" font-style="normal" fill="#111" >1400</text>
<text x="412.25" y="556.50" font-size="9.1" text-anchor="middle" font-weight="normal" font-style="normal" fill="#111" textLength="14.5" lengthAdjust="spacingAndGlyphs">SPL</text>
<text x="454.40" y="556.50" font-size="9.1" text-anchor="middle" font-weight="normal" font-style="normal" fill="#111" textLength="16.2" lengthAdjust="spacingAndGlyphs">PLN</text>
<text x="496.90" y="556.50" font-size="9.1" text-anchor="middle" font-weight="normal" font-style="normal" fill="#111" textLength="19.7" lengthAdjust="spacingAndGlyphs">MLN</text>
<path d="M411.25,442.50 L411.25,440.70 Q411.25,439.50 412.45,439.50 L423.30,439.50 Q424.50,439.50 424.50,440.70 L424.50,442.50" fill="none" stroke="#000" stroke-width="1.15"/>
<text x="392.50" y="437.00" font-size="7.55" fill="#111"><tspan font-style="italic">P</tspan> = .0001</text>
<path d="M442.50,461.50 L442.50,459.45 Q442.50,458.25 443.70,458.25 L454.55,458.25 Q455.75,458.25 455.75,459.45 L455.75,461.50" fill="none" stroke="#000" stroke-width="1.15"/>
<text x="423.75" y="455.75" font-size="7.55" fill="#111"><tspan font-style="italic">P</tspan> = .0003</text>
<path d="M448.75,389.25 L448.75,386.95 Q448.75,385.75 449.95,385.75 L460.80,385.75 Q462.00,385.75 462.00,386.95 L462.00,389.25" fill="none" stroke="#000" stroke-width="1.15"/>
<text x="437.00" y="383.75" font-size="7.55" fill="#111"><tspan font-style="italic">P</tspan> = .0035</text>
<path d="M493.00,471.60 L493.00,469.20 Q493.00,468.00 494.20,468.00 L505.30,468.00 Q506.50,468.00 506.50,469.20 L506.50,471.60" fill="none" stroke="#000" stroke-width="1.15"/>
<text x="481.00" y="466.00" font-size="7.55" fill="#111"><tspan font-style="italic">P</tspan> = .0073</text>
<text transform="translate(361.1,445.25) rotate(-90)" font-size="9.41" text-anchor="middle" fill="#111">CD25 MFI on CD4+ CD25+ T cells</text>
<rect x="192.30" y="575.30" width="6.20" height="6.40" fill="#fff" stroke="#111" stroke-width="1.3"/>
<text x="207.00" y="582.00" font-size="10.2" text-anchor="start" font-weight="normal" font-style="normal" fill="#111" >Control</text>
<rect x="262.00" y="575.30" width="7.00" height="6.40" fill="url(#piv)" stroke="#111" stroke-width="1.1"/>
<text x="276.00" y="582.00" font-size="10.2" text-anchor="start" font-weight="normal" font-style="normal" fill="#111" >i.v.</text>
<rect x="311.70" y="575.30" width="6.80" height="6.40" fill="url(#pip)" stroke="#111" stroke-width="1.1"/>
<text x="326.00" y="582.00" font-size="10.2" text-anchor="start" font-weight="normal" font-style="normal" fill="#111" >i.p.</text>
</svg>
</body></html>
